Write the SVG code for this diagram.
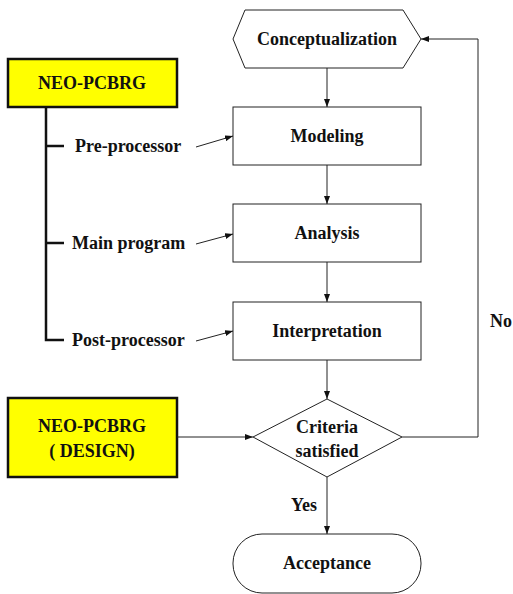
<svg xmlns="http://www.w3.org/2000/svg" width="513" height="594" viewBox="0 0 513 594">
<style>
text{font-family:"Liberation Serif","Times New Roman",serif;font-weight:bold;font-size:18px;fill:#111;text-anchor:middle;dominant-baseline:central}
.lbl{text-anchor:start}
.shape{fill:#fff;stroke:#222;stroke-width:1}
.yel{fill:#ffff00;stroke:#111;stroke-width:2.5}
.c{fill:none;stroke:#222;stroke-width:1}
.tree{fill:none;stroke:#111;stroke-width:2.5}
</style>
<defs>
<marker id="ah" markerWidth="8" markerHeight="6" refX="8" refY="3" orient="auto" markerUnits="userSpaceOnUse">
<path d="M0,0 L8,3 L0,6 Z" fill="#111"/>
</marker>
</defs>
<g id="conceptualization"><polygon class="shape" points="245,10 403,10 421,39 403,68 245,68 233,39"/><text x="327" y="39">Conceptualization</text></g>
<g id="modeling"><rect class="shape" x="233" y="107" width="188" height="58"/><text x="327" y="136">Modeling</text></g>
<g id="analysis"><rect class="shape" x="233" y="204" width="188" height="58"/><text x="327" y="233">Analysis</text></g>
<g id="interpretation"><rect class="shape" x="233" y="302" width="188" height="58"/><text x="327" y="331">Interpretation</text></g>
<g id="criteria"><polygon class="shape" points="327,399 402,437 327,477 253,437"/><text x="327" y="427">Criteria</text><text x="327" y="451">satisfied</text></g>
<g id="acceptance"><rect class="shape" x="233" y="534" width="188" height="59" rx="29" ry="29"/><text x="327" y="563">Acceptance</text></g>
<g id="neo-pcbrg"><rect class="yel" x="8" y="59" width="169" height="48"/><text x="92" y="83">NEO-PCBRG</text></g>
<g id="neo-pcbrg-design"><rect class="yel" x="8" y="398" width="169" height="79"/><text x="92" y="426">NEO-PCBRG</text><text x="92" y="451">( DESIGN)</text></g>
<g id="tree"><path class="tree" d="M46,107 V340 H64 M46,146 H64 M46,243 H64"/>
<text class="lbl" x="75" y="146">Pre-processor</text>
<text class="lbl" x="72" y="243">Main program</text>
<text class="lbl" x="72" y="340">Post-processor</text></g>
<g id="connectors">
<line class="c" x1="327" y1="68" x2="327" y2="107" marker-end="url(#ah)"/>
<line class="c" x1="327" y1="165" x2="327" y2="204" marker-end="url(#ah)"/>
<line class="c" x1="327" y1="262" x2="327" y2="302" marker-end="url(#ah)"/>
<line class="c" x1="327" y1="360" x2="327" y2="399" marker-end="url(#ah)"/>
<line class="c" x1="327" y1="477" x2="327" y2="534" marker-end="url(#ah)"/>
<line class="c" x1="196" y1="147" x2="233" y2="136" marker-end="url(#ah)"/>
<line class="c" x1="196" y1="244" x2="233" y2="234" marker-end="url(#ah)"/>
<line class="c" x1="196" y1="341" x2="233" y2="331" marker-end="url(#ah)"/>
<line class="c" x1="177" y1="437" x2="253" y2="437" marker-end="url(#ah)"/>
<polyline class="c" points="402,437 478,437 478,39 421,39" marker-end="url(#ah)"/>
<text x="501" y="321">No</text>
<text x="304" y="505">Yes</text>
</g>
</svg>
